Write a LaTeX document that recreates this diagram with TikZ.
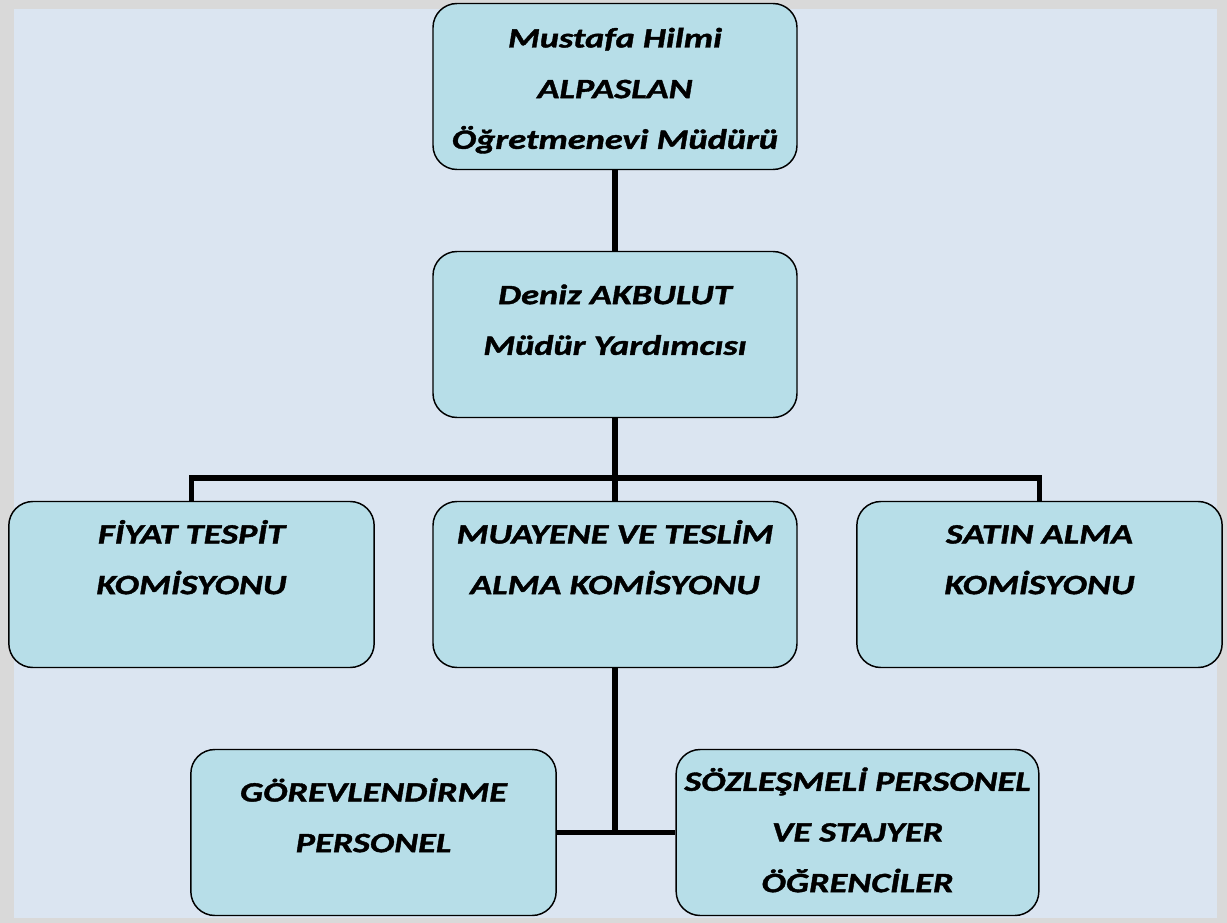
\documentclass[tikz,border=0pt]{standalone}
\usepackage{fontspec}
\setmainfont{Carlito}[FakeStretch=1.3,FakeBold=1.4]
\usepackage{xcolor}
\usetikzlibrary{positioning,calc}

\definecolor{pagegray}{HTML}{D9D9D9}
\definecolor{paneblue}{HTML}{DBE5F1}
\definecolor{boxcyan}{HTML}{B7DEE8}

% fixed box height, text hangs from the top edge
\newlength\orgboxh
\setlength\orgboxh{124.5pt}
\newcommand{\orgtxt}[3]{\parbox[c][\orgboxh][t]{#1}{\centering\rule{0pt}{#2}\ignorespaces #3}}

\begin{document}
\begin{tikzpicture}[
    x=0.75pt, y=-0.75pt,
    font=\fontsize{21}{38}\selectfont\bfseries\itshape,
    orgbox/.style={draw=black, fill=boxcyan, line width=1.1pt, rounded corners=18pt, inner sep=0pt},
    link/.style={draw=black, line width=3.8pt}
]
    % Page background: gray frame with light blue pane
    \useasboundingbox (0,0) rectangle (1227,923);
    \fill[pagegray] (0,0) rectangle (1227,923);
    \fill[paneblue] (14,9) rectangle (1217,918);

    % ==================== LEVELS 1-2 ====================
    \node[orgbox] (mudur) at (615,86.5)
        {\orgtxt{273pt}{33pt}{Mustafa Hilmi\\ALPASLAN\\Öğretmenevi Müdürü}};
    \node[orgbox] (yardimci) at (615,334.5)
        {\orgtxt{273pt}{39.5pt}{Deniz AKBULUT\\Müdür Yardımcısı}};

    % ==================== COMMISSIONS ====================
    \node[orgbox] (fiyat) at (191.5,584.5)
        {\orgtxt{274pt}{31.5pt}{FİYAT TESPİT\\KOMİSYONU}};
    \node[orgbox] (muayene) at (615,584.5)
        {\orgtxt{273pt}{31.5pt}{MUAYENE VE TESLİM\\ALMA KOMİSYONU}};
    \node[orgbox] (satin) at (1039.5,584.5)
        {\orgtxt{274pt}{31.5pt}{SATIN ALMA\\KOMİSYONU}};

    % ==================== STAFF ====================
    \node[orgbox] (gorev) at (373.5,832.5)
        {\orgtxt{274pt}{39pt}{GÖREVLENDİRME\\PERSONEL}};
    \node[orgbox] (sozles) at (857.5,832.5)
        {\orgtxt{272pt}{31pt}{SÖZLEŞMELİ PERSONEL\\VE STAJYER\\ÖĞRENCİLER}};

    % Connectors
    \coordinate (bus) at (615,478);
    \coordinate (split) at (muayene.south |- gorev.east);
    \draw[link] (mudur) -- (yardimci);
    \draw[link] (yardimci) -- (bus);
    \draw[link] (fiyat.north) |- (bus) -| (satin.north);
    \draw[link] (bus) -- (muayene);
    \draw[link] (muayene) -- (split);
    \draw[link] (gorev.east) -- (sozles.west);

\end{tikzpicture}
\end{document}
